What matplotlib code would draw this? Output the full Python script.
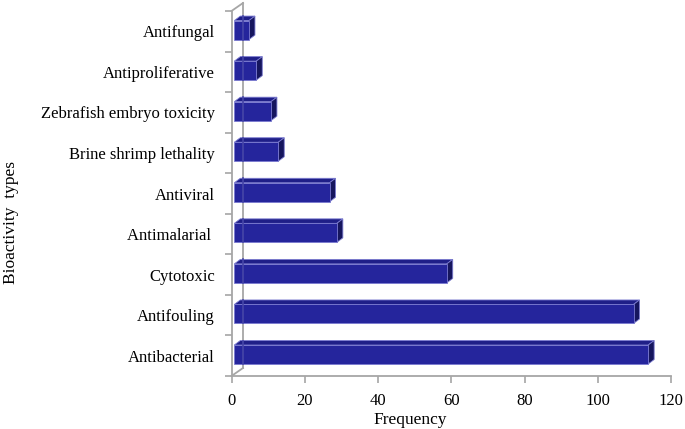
import matplotlib
matplotlib.use("Agg")
import matplotlib.pyplot as plt
from matplotlib.patches import Polygon

# data (bottom to top)
categories = ["Antibacterial", "Antifouling", "Cytotoxic", "Antimalarial ", "Antiviral",
              "Brine shrimp lethality", "Zebrafish embryo toxicity", "Antiproliferative", "Antifungal"]
frequency = [113, 109, 58, 28, 26, 12, 10, 6, 4]
x_ticks = [0, 20, 40, 60, 80, 100, 120]

plt.rcParams['font.family'] = ['Liberation Serif', 'DejaVu Serif']

W, H = 685, 429
fig = plt.figure(figsize=(W / 100, H / 100), dpi=100)
# axes front plane in pixels
x0, x1 = 231.5, 671
y_bot, y_top = 376, 11
ax = fig.add_axes([x0 / W, (H - y_bot) / H, (x1 - x0) / W, (y_bot - y_top) / H])
ax.set_xlim(0, 120)
ax.set_ylim(-0.5, len(categories) - 0.5)

pxu = (x1 - x0) / 120.0          # pixels per x unit
pyu = (y_bot - y_top) / len(categories)  # pixels per category


def px(dx, dy):
    # pixel offset -> data offset
    return dx / pxu, dy / pyu


# back wall (3D effect)
wall_dx, wall_dy = px(11.5, 8)
grey = "#a6a6a6"
ax.plot([wall_dx, wall_dx], [-0.5 + wall_dy, len(categories) - 0.5 + wall_dy],
        color=grey, lw=1.3, zorder=1, clip_on=False)
ax.plot([0, wall_dx], [-0.5, -0.5 + wall_dy], color=grey, lw=1.3, zorder=1, clip_on=False)
ax.plot([0, wall_dx], [len(categories) - 0.5, len(categories) - 0.5 + wall_dy],
        color=grey, lw=1.3, zorder=1, clip_on=False)

# bars
off_x, off_y = px(2.8, 1.2)     # front face set back from front plane
dep_x, dep_y = px(6, 4.5)       # depth of bar
h = 19 / pyu
front_c = "#25259c"
top_c = "#1f1f88"
side_c = "#16165e"
edge_c = "#7a7ad0"
for i, v in enumerate(frequency):
    xl = off_x
    xr = off_x + v
    yb = i + off_y - h / 2
    yt = i + off_y + h / 2
    top = Polygon([(xl, yt), (xr, yt), (xr + dep_x, yt + dep_y), (xl + dep_x, yt + dep_y)],
                  closed=True, facecolor=top_c, edgecolor=edge_c, lw=0.6, zorder=3)
    side = Polygon([(xr, yb), (xr + dep_x, yb + dep_y), (xr + dep_x, yt + dep_y), (xr, yt)],
                   closed=True, facecolor=side_c, edgecolor=edge_c, lw=0.6, zorder=3)
    front = Polygon([(xl, yb), (xr, yb), (xr, yt), (xl, yt)],
                    closed=True, facecolor=front_c, edgecolor=edge_c, lw=0.6, zorder=4)
    ax.add_patch(top)
    ax.add_patch(side)
    ax.add_patch(front)
    # wall line seen faintly through the bar
    ax.plot([wall_dx, wall_dx], [yb, yt + dep_y], color="#4646a8", lw=1.2, zorder=5)

# axes styling
for s in ["top", "right"]:
    ax.spines[s].set_visible(False)
for s in ["left", "bottom"]:
    ax.spines[s].set_color(grey)
    ax.spines[s].set_linewidth(1.3)

ax.set_xticks(x_ticks)
ax.set_yticks([i - 0.5 for i in range(len(categories) + 1)])
ax.set_yticklabels([])
ax.set_yticks(range(len(categories)), minor=True)
ax.set_yticklabels(categories, minor=True, fontsize=12)
ax.tick_params(axis="y", which="minor", length=0, pad=12)
ax.tick_params(axis="y", which="major", length=5, width=1.2, color=grey, direction="out")
ax.tick_params(axis="x", length=5, width=1.2, color=grey, direction="out", labelsize=12, pad=7)

ax.set_xlabel("Frequency", fontsize=12.5)
ax.xaxis.set_label_coords(0.407, -0.1)
ax.set_ylabel("Bioactivity  types", fontsize=12.5)
ax.yaxis.set_label_coords(-0.483, 0.42)

fig.savefig("out.png", dpi=100)
